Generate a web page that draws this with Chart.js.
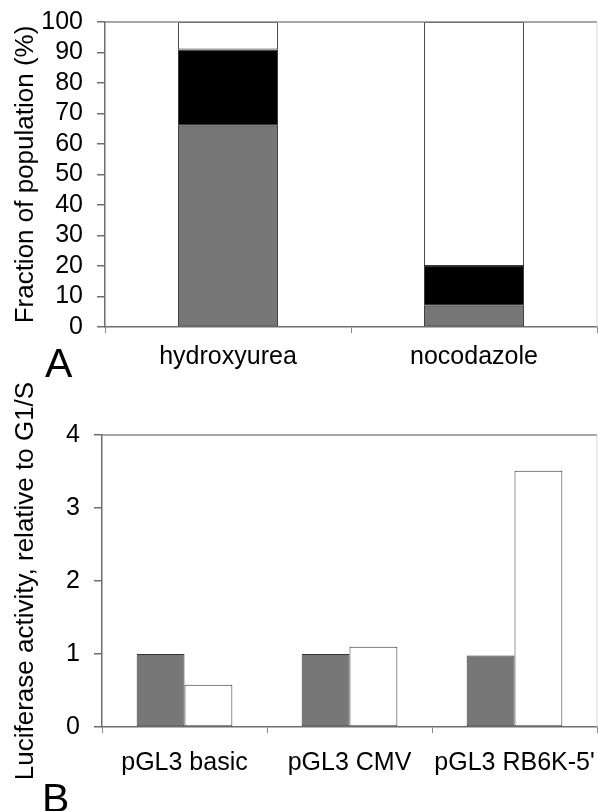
<!DOCTYPE html>
<html>
<head>
<meta charset="utf-8">
<script src="https://cdn.jsdelivr.net/npm/chart.js@4"></script>
<style>
  html, body { margin: 0; padding: 0; background: #fff; }
  body { width: 598px; height: 811px; position: relative; overflow: hidden; font-family: "Liberation Sans", Arial, sans-serif; }
  .panel { position: absolute; left: 0; width: 598px; }
  #panelA { top: 0; height: 380px; }
  #panelB { top: 380px; height: 431px; }
  .letter { position: absolute; font-size: 41px; line-height: 1; color: #000; }
</style>
</head>
<body>
<div class="panel" id="panelA"><canvas id="chartA"></canvas></div>
<div class="panel" id="panelB"><canvas id="chartB"></canvas></div>
<div class="letter" style="left:45px; top:343px;">A</div>
<div class="letter" style="left:42px; top:778px;">B</div>
<script>
// panel A: cell cycle distribution after arrest
const treatments = ['hydroxyurea', 'nocodazole'];
const fracG1 = [66, 7];     // grey
const fracS = [25, 13];     // black
const fracG2M = [9, 80];    // white
const ticksA = [0, 10, 20, 30, 40, 50, 60, 70, 80, 90, 100];

// panel B: luciferase activity
const constructs = ['pGL3 basic', 'pGL3 CMV', "pGL3 RB6K-5'"];
const actG1S = [1.0, 1.0, 0.98];
const actG2M = [0.58, 1.1, 3.51];
const ticksB = [0, 1, 2, 3, 4];

const FONT = '"Liberation Sans", Arial, sans-serif';
const GREY = '#777777';
const EDGE = '#333333';

Chart.defaults.font.family = FONT;
Chart.defaults.color = '#000';
Chart.defaults.animation = false;
Chart.defaults.responsive = true;
Chart.defaults.maintainAspectRatio = false;

// plot-area frame (top and right edges)
const frame = {
  id: 'frame',
  afterDraw(chart) {
    const { ctx, chartArea: a } = chart;
    ctx.save();
    ctx.strokeStyle = '#8a8a8a';
    ctx.lineWidth = 1.5;
    ctx.beginPath();
    ctx.moveTo(a.left, a.top);
    ctx.lineTo(a.right, a.top);
    ctx.stroke();
    ctx.strokeStyle = '#d8d8d8';
    ctx.lineWidth = 1;
    ctx.beginPath();
    ctx.moveTo(a.right, a.top);
    ctx.lineTo(a.right, a.bottom);
    ctx.stroke();
    ctx.restore();
  }
};

function bar(label, data, color, pct) {
  return {
    label, data,
    backgroundColor: color,
    borderColor: EDGE,
    borderWidth: 1,
    borderSkipped: false,
    barPercentage: 1,
    categoryPercentage: pct
  };
}

function yAxis(title, ticks, width, max, titlePad) {
  return {
    min: 0, max,
    afterFit: s => { s.width = width; s.paddingTop = 0; s.paddingBottom = 0; },
    afterBuildTicks: s => { s.ticks = ticks.map(v => ({ value: v })); },
    grid: { drawOnChartArea: false, drawTicks: true, tickLength: 8, color: '#6e6e6e', lineWidth: 1.5 },
    border: { display: true, color: '#6e6e6e', width: 1.5 },
    ticks: { font: { size: 25 }, padding: 14, color: '#000', autoSkip: false },
    title: { display: true, text: title, font: { size: 26 }, padding: { top: titlePad, bottom: 0 }, color: '#000' }
  };
}

function xAxis(height, pad) {
  return {
    afterFit: s => { s.height = height; s.paddingLeft = 0; s.paddingRight = 0; },
    grid: { drawOnChartArea: false, drawTicks: true, tickLength: 6, offset: true, color: '#8a8a8a', lineWidth: 1 },
    border: { display: true, color: '#6e6e6e', width: 1.5 },
    ticks: { font: { size: 25 }, padding: pad, color: '#000', maxRotation: 0, autoSkip: false }
  };
}

new Chart(document.getElementById('chartA'), {
  type: 'bar',
  data: {
    labels: treatments,
    datasets: [
      bar('G1', fracG1, GREY, 0.407),
      bar('S', fracS, '#000000', 0.407),
      bar('G2/M', fracG2M, '#ffffff', 0.407)
    ]
  },
  options: {
    layout: { padding: { top: 22, right: 1, left: 0, bottom: 0 } },
    plugins: { legend: { display: false }, tooltip: { enabled: false } },
    scales: {
      x: Object.assign(xAxis(53, 9), { stacked: true }),
      y: Object.assign(yAxis('Fraction of population (%)', ticksA, 105, 100, 10), { stacked: true })
    }
  },
  plugins: [frame]
});

new Chart(document.getElementById('chartB'), {
  type: 'bar',
  data: {
    labels: constructs,
    datasets: [
      bar('G1/S', actG1S, GREY, 0.58),
      bar('G2/M', actG2M, '#ffffff', 0.58)
    ]
  },
  options: {
    layout: { padding: { top: 55, right: 1, left: 0, bottom: 0 } },
    plugins: { legend: { display: false }, tooltip: { enabled: false } },
    scales: {
      x: xAxis(84, 15),
      y: yAxis('Luciferase activity, relative to G1/S', ticksB, 102, 4, 10)
    }
  },
  plugins: [frame]
});
</script>
</body>
</html>
